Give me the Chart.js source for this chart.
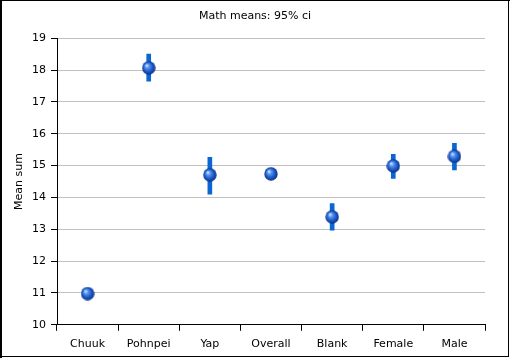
<!DOCTYPE html>
<html>
  <head>
    <meta charset="utf-8">
    <title>Math means</title>
    <script src="https://cdn.jsdelivr.net/npm/chart.js@4.4.0/dist/chart.umd.min.js"></script>
    <style>
      body { margin: 0; background: #ffffff; }
      canvas { display: block; }
    </style>
    <script>
      // values
      const categories = ['Chuuk', 'Pohnpei', 'Yap', 'Overall', 'Blank', 'Female', 'Male'];
      const means = [10.98, 18.07, 14.71, 14.74, 13.39, 14.99, 15.29];
      const lower = [10.90, 17.65, 14.10, 14.60, 12.97, 14.60, 14.86];
      const upper = [11.06, 18.50, 15.26, 14.88, 13.81, 15.35, 15.70];
      const yMin = 10;
      const yMax = 19;

      // little shaded ball used as the point style
      function makeBall(size) {
        const c = document.createElement('canvas');
        c.width = size;
        c.height = size;
        const ctx = c.getContext('2d');
        const r = size / 2;
        const g = ctx.createRadialGradient(r * 0.7, r * 0.65, 0.5, r, r, r);
        g.addColorStop(0, '#c8e0ff');
        g.addColorStop(0.25, '#5a95ee');
        g.addColorStop(0.6, '#1f5fd0');
        g.addColorStop(1, '#0a2a7a');
        ctx.fillStyle = g;
        ctx.beginPath();
        ctx.arc(r, r, r - 0.3, 0, Math.PI * 2);
        ctx.fill();
        return c;
      }

      // black frame round the whole picture
      const framePlugin = {
        id: 'frame',
        afterDraw(chart) {
          const ctx = chart.ctx;
          ctx.save();
          ctx.fillStyle = '#000';
          ctx.fillRect(0, 0, 2, chart.height);
          ctx.fillRect(0, 0, chart.width, 1);
          ctx.fillRect(chart.width - 2, 0, 1, chart.height - 1);
          ctx.fillRect(0, chart.height - 2, chart.width - 1, 1);
          ctx.restore();
        }
      };

      function drawChart() {
        const font = { family: 'DejaVu Sans', size: 11, weight: 'normal' };
        const ranges = lower.map((lo, i) => [lo, upper[i]]);

        new Chart(document.getElementById('chart'), {
          data: {
            labels: categories,
            datasets: [
              {
                type: 'line',
                label: 'Mean',
                data: means,
                showLine: false,
                pointStyle: makeBall(14),
                pointRadius: 7,
                pointHoverRadius: 7,
                order: 1
              },
              {
                type: 'bar',
                label: '95% ci',
                data: ranges,
                backgroundColor: '#0a66d2',
                barThickness: 4,
                borderSkipped: false,
                order: 2
              }
            ]
          },
          options: {
            responsive: false,
            devicePixelRatio: 1,
            animation: false,
            layout: { padding: 0 },
            plugins: {
              legend: { display: false },
              tooltip: { enabled: false },
              title: {
                display: true,
                text: 'Math means: 95% ci',
                color: '#000',
                font: font,
                padding: { top: 10, bottom: 15 }
              }
            },
            scales: {
              x: {
                offset: true,
                grid: { display: true, drawOnChartArea: false, offset: true, tickLength: 6, tickColor: '#000' },
                border: { color: '#000' },
                ticks: { color: '#000', font: font, padding: 7, maxRotation: 0 }
              },
              y: {
                min: yMin,
                max: yMax,
                afterFit(scale) { scale.width = 57; },
                grid: { color: '#c0c0c0', tickColor: '#000', tickLength: 6 },
                border: { color: '#000' },
                ticks: { stepSize: 1, color: '#000', font: font, padding: 5 },
                title: { display: true, text: 'Mean sum', color: '#000', font: font, padding: { top: 13, bottom: 0 } }
              },
              // empty right-hand strip so the title stays centred on the whole picture
              gap: {
                position: 'right',
                min: yMin,
                max: yMax,
                afterFit(scale) { scale.width = 25; },
                grid: { display: false },
                border: { display: false },
                ticks: { display: false }
              }
            }
          },
          plugins: [framePlugin]
        });
      }
    </script>
  </head>
  <body onload="drawChart()">
    <canvas id="chart" width="510" height="358"></canvas>
  </body>
</html>
